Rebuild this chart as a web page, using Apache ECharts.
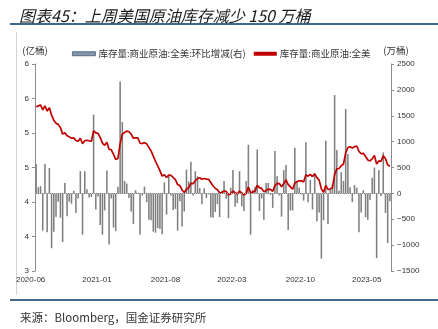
<!DOCTYPE html>
<html>
<head>
<meta charset="utf-8">
<script src="https://cdn.jsdelivr.net/npm/echarts@6/dist/echarts.min.js"></script>
<style>
  html, body { margin: 0; padding: 0; background: #fff; }
  #chart { width: 438px; height: 329px; }
</style>
</head>
<body>
<div id="chart"></div>
<script>
// Weekly US commercial crude stocks, first week ending 2020-06-05
const startDate = '2020-06-05';
const tickMonths = ['2020-06', '2021-01', '2021-08', '2022-03', '2022-10', '2023-05'];

const barName = '库存量:商业原油:全美:环比增减(右)';
const lineName = '库存量:商业原油:全美';

// Week-over-week change, 万桶 (right axis)
const weeklyChange = [
  570, 120, 140, -720, 570, -750, 490, -1060, -740, -450,
  -160, -470, -940, 200, -440, -160, -200, 50, -380, -100,
  430, -800, 430, 80, -80, -70, 1520, -310, -60, -610,
  -800, -330, 440, -990, -100, -660, -730, 130, 2160, 1380,
  240, 190, -90, -350, -590, 60, 10, -800, -40, 130,
  -170, -510, -520, -740, -760, -670, -690, -790, 210, -410,
  360, -40, -320, -300, -720, -150, -640, -350, 460, 230,
  610, -40, 430, 330, 100, -210, 100, -90, -20, -460,
  -470, -360, -210, -460, 50, 240, -100, -480, 110, 450,
  -260, -190, 430, -250, -340, 240, 940, -800, 70, 130,
  850, -340, -100, -510, 200, 200, -30, -280, 820, 330,
  -40, -450, 450, 550, -710, -330, -330, 880, 240, 110,
  -20, -140, 990, -170, 260, -310, 390, -540, -370, -1260,
  -520, 1020, -590, 70, 170, 1900, 840, 50, 410, 240,
  1630, 760, 120, -170, 160, 110, -750, -370, 60, -460,
  -510, -130, 300, 500, -1250, 450, -50, 790, -380, -960,
  -150
];

// Stock level, 亿桶 (left axis)
const stockLevel = [
  5.381, 5.393, 5.407, 5.335, 5.392, 5.317, 5.366, 5.260, 5.186, 5.141,
  5.125, 5.078, 4.984, 5.004, 4.960, 4.944, 4.924, 4.929, 4.891, 4.881,
  4.924, 4.844, 4.887, 4.895, 4.887, 4.880, 5.032, 5.001, 4.995, 4.934,
  4.854, 4.821, 4.865, 4.766, 4.756, 4.690, 4.617, 4.630, 4.846, 4.984,
  5.008, 5.027, 5.018, 4.983, 4.924, 4.930, 4.931, 4.851, 4.847, 4.860,
  4.843, 4.792, 4.740, 4.666, 4.590, 4.523, 4.454, 4.375, 4.396, 4.355,
  4.391, 4.387, 4.355, 4.325, 4.253, 4.238, 4.174, 4.139, 4.185, 4.208,
  4.269, 4.265, 4.308, 4.341, 4.351, 4.330, 4.340, 4.331, 4.329, 4.283,
  4.236, 4.200, 4.179, 4.133, 4.138, 4.162, 4.152, 4.104, 4.115, 4.160,
  4.134, 4.115, 4.158, 4.133, 4.099, 4.123, 4.217, 4.137, 4.144, 4.157,
  4.242, 4.208, 4.198, 4.147, 4.167, 4.187, 4.184, 4.156, 4.238, 4.271,
  4.267, 4.222, 4.267, 4.322, 4.251, 4.218, 4.185, 4.273, 4.297, 4.308,
  4.306, 4.292, 4.391, 4.374, 4.400, 4.369, 4.408, 4.354, 4.317, 4.191,
  4.139, 4.241, 4.182, 4.189, 4.206, 4.396, 4.480, 4.485, 4.526, 4.550,
  4.713, 4.789, 4.801, 4.784, 4.800, 4.811, 4.736, 4.699, 4.705, 4.659,
  4.608, 4.595, 4.625, 4.675, 4.550, 4.595, 4.590, 4.669, 4.631, 4.535,
  4.520
];

// Weekly date categories
const weeks = [];
const t0 = Date.parse(startDate + 'T00:00:00Z');
for (let i = 0; i < weeklyChange.length; i++) {
  weeks.push(new Date(t0 + i * 7 * 86400000).toISOString().slice(0, 10));
}
// First week of each labelled month
const tickIndex = new Set();
tickMonths.forEach(m => {
  const i = weeks.findIndex(d => d.slice(0, 7) === m);
  if (i >= 0) tickIndex.add(i);
});
const showTick = (i) => tickIndex.has(i);

const cjk = '"Noto Sans CJK SC", sans-serif';
const latin = '"Liberation Sans", Arial, sans-serif';
const axisGray = '#8c8c8c';
const frameBlue = '#41698a';

const chart = echarts.init(document.getElementById('chart'), null, { renderer: 'canvas' });
chart.setOption({
  animation: false,
  backgroundColor: '#fff',
  title: [
    {
      text: '图表45：上周美国原油库存减少 150 万桶',
      left: 14, top: 3,
      textStyle: { fontFamily: cjk, fontSize: 16, fontStyle: 'italic', fontWeight: 'normal', color: '#1a1a1a' }
    },
    {
      text: '来源：Bloomberg，国金证券研究所',
      left: 15, top: 307,
      textStyle: { fontFamily: cjk, fontSize: 11.5, fontWeight: 'normal', color: '#333' }
    }
  ],
  graphic: [
    { type: 'line', silent: true, shape: { x1: 10, y1: 24, x2: 438, y2: 24 }, style: { stroke: frameBlue, lineWidth: 2 } },
    { type: 'line', silent: true, shape: { x1: 10, y1: 300, x2: 438, y2: 300 }, style: { stroke: frameBlue, lineWidth: 2 } },
    { type: 'line', silent: true, shape: { x1: 16.5, y1: 32, x2: 16.5, y2: 295 }, style: { stroke: '#d4d4d4', lineWidth: 1 } }
  ],
  legend: {
    left: 67, top: 44,
    itemWidth: 23, itemHeight: 4, itemGap: 8,
    textStyle: { fontFamily: cjk, fontSize: 9.5, color: '#333', padding: [0, 0, 0, -2] },
    data: [
      { name: barName, icon: 'rect', itemStyle: { color: '#8497b0', borderColor: '#44546a', borderWidth: 0.8 } },
      { name: lineName, icon: 'rect', itemStyle: { color: '#c00000' } }
    ]
  },
  grid: { left: 35, right: 47, top: 64, bottom: 58, containLabel: false },
  xAxis: {
    type: 'category',
    data: weeks,
    boundaryGap: true,
    axisLine: { lineStyle: { color: axisGray, width: 1 } },
    axisTick: { interval: showTick, length: 3, lineStyle: { color: axisGray } },
    axisLabel: {
      interval: showTick,
      formatter: v => v.slice(0, 7),
      fontFamily: latin, fontSize: 8, color: '#333', margin: 5,
      padding: [0, 11, 0, 0]
    },
    splitLine: { show: false }
  },
  yAxis: [
    {
      type: 'value', min: 3, max: 6, interval: 0.5,
      name: '(亿桶)', nameLocation: 'end', nameGap: 9,
      nameTextStyle: { fontFamily: cjk, fontSize: 9.5, color: '#333' },
      axisLine: { show: true, lineStyle: { color: axisGray } },
      axisTick: { show: true, length: 3, lineStyle: { color: axisGray } },
      axisLabel: { formatter: v => String(Math.round(v)), fontFamily: latin, fontSize: 8, color: '#333', margin: 6 },
      splitLine: { show: false }
    },
    {
      type: 'value', min: -1500, max: 2500, interval: 500,
      name: '(万桶)', nameLocation: 'end', nameGap: 9,
      nameTextStyle: { fontFamily: cjk, fontSize: 9.5, color: '#333', padding: [0, 0, 0, 10] },
      axisLine: { show: true, lineStyle: { color: axisGray } },
      axisTick: { show: true, length: 3, lineStyle: { color: axisGray } },
      axisLabel: { formatter: v => (v < 0 ? '\u2212' + Math.abs(v) : String(v)), fontFamily: latin, fontSize: 8, color: '#333', margin: 6 },
      splitLine: { show: false }
    }
  ],
  series: [
    {
      name: barName,
      type: 'bar',
      yAxisIndex: 1,
      data: weeklyChange,
      barWidth: '70%',
      itemStyle: { color: '#7f7f7f' },
      markLine: {
        silent: true, symbol: 'none',
        label: { show: false },
        lineStyle: { type: 'dotted', color: '#bdbdbd', width: 1 },
        data: [{ yAxis: 0 }]
      },
      z: 2
    },
    {
      name: lineName,
      type: 'line',
      yAxisIndex: 0,
      data: stockLevel,
      symbol: 'none',
      lineStyle: { color: '#c00000', width: 1.7 },
      itemStyle: { color: '#c00000' },
      z: 3
    }
  ]
});
</script>
</body>
</html>
